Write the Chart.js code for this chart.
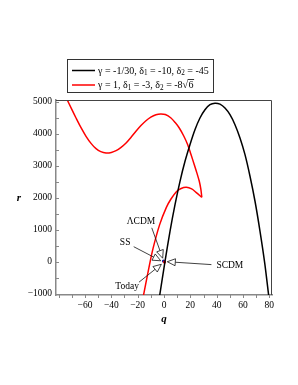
<!DOCTYPE html>
<html>
<head>
<meta charset="utf-8">
<script src="https://cdn.jsdelivr.net/npm/chart.js@4.4.1/dist/chart.umd.min.js"></script>
<style>
  html, body { margin: 0; padding: 0; background: #fff; }
  #wrap { position: relative; width: 298px; height: 385px; }
</style>
</head>
<body>
<div id="wrap"><canvas id="grafico"></canvas></div>
<script>
// black curve: gamma = -1/30, d1 = -10, d2 = -45
const blackQ = [-3.45, 0.77, 4.56, 8.36, 12.15, 15.95, 19.7, 23.5, 27.3, 31.1, 34.9, 38.7, 42.5, 46.3, 50.1, 53.9, 57.7, 61.5, 65.3, 69.1, 72.9, 76.5, 79.6];
const blackR = [-1100, 14, 952, 1783, 2514, 3139, 3658, 4127, 4493, 4752, 4908, 4955, 4925, 4805, 4596, 4283, 3867, 3346, 2671, 1890, 952, -50, -1100];

// red curve: gamma = 1, d1 = -3, d2 = -8 sqrt(6)  (upper part, up to the cusp)
const redUpperQ = [-74.5, -70, -66.8, -63, -59.2, -55.4, -51.6, -48, -44, -40, -36.4, -32.6, -28.8, -25, -21.3, -17.5, -13.7, -10, -6.1, -2.5, 1, 5.3, 8.5, 11.6, 15, 18, 20.5, 23, 25, 26.8, 28, 28.7];
const redUpperR = [5150, 4760, 4493, 4190, 3921, 3700, 3533, 3440, 3399, 3415, 3471, 3575, 3711, 3890, 4077, 4255, 4408, 4520, 4596, 4620, 4600, 4493, 4350, 4180, 3930, 3658, 3350, 3033, 2770, 2514, 2260, 2014];
// red curve, lower part, from the cusp down
const redLowerQ = [28.7, 24.3, 21, 17, 13, 9.4, 5.3, 1.8, -3.3, -8.4, -12, -15.8];
const redLowerR = [2014, 2170, 2275, 2325, 2290, 2190, 1960, 1700, 1160, 400, -300, -1100];

// special points near the origin
const pointQ = [-0.4, 0.4];
const pointR = [20, -10];

const xTicks = [-60, -40, -20, 0, 20, 40, 60, 80];
const yTicks = [-1000, 0, 1000, 2000, 3000, 4000, 5000];

// annotations: label, label position, arrow tail, arrow target (data units)
const annLabels = ['ΛCDM', 'SS', 'Today', 'SCDM'];
const annLabelQ = [-17.5, -29.5, -28, 50];
const annLabelR = [1250, 600, -780, -120];
const annTailQ = [-9.3, -23, -19, 36];
const annTailR = [1060, 470, -640, -90];
const annTipQ = [-1, -2.5, -2, 2.5];
const annTipR = [110, 30, -80, 0];

const legendRows = [
  { color: '#000000', parts: [{t: 'γ = -1/30, δ'}, {t: '1', sub: true}, {t: ' = -10, δ'}, {t: '2', sub: true}, {t: ' = -45'}] },
  { color: '#ff0000', parts: [{t: 'γ = 1, δ'}, {t: '1', sub: true}, {t: ' = -3, δ'}, {t: '2', sub: true}, {t: ' = -8'}], sqrt: '6' }
];

const toPts = (qs, rs) => qs.map((q, i) => ({ x: q, y: rs[i] }));
const fmt = v => (v < 0 ? '\u2212' + Math.abs(v) : '' + v);
const SERIF = '"Liberation Serif", "DejaVu Serif", serif';

function drawParts(ctx, x, y, parts, size) {
  for (const p of parts) {
    if (p.sub) {
      ctx.font = (size * 0.72) + 'px ' + SERIF;
      ctx.fillText(p.t, x, y + size * 0.22);
    } else {
      ctx.font = size + 'px ' + SERIF;
      ctx.fillText(p.t, x, y);
    }
    x += ctx.measureText(p.t).width;
  }
  return x;
}

const extras = {
  id: 'extras',
  afterDraw(chart) {
    const ctx = chart.ctx;
    const a = chart.chartArea;
    const xs = chart.scales.x, ys = chart.scales.y;
    ctx.save();

    // frame top + right
    ctx.strokeStyle = '#444';
    ctx.lineWidth = 1;
    ctx.beginPath();
    ctx.moveTo(a.left, a.top + 0.5);
    ctx.lineTo(a.right - 0.5, a.top + 0.5);
    ctx.lineTo(a.right - 0.5, a.bottom);
    ctx.stroke();

    // small ticks (major + minor)
    ctx.strokeStyle = '#888';
    ctx.lineWidth = 1;
    ctx.beginPath();
    for (let v = -1000; v <= 5000; v += 500) {
      const y = Math.round(ys.getPixelForValue(v)) + 0.5;
      ctx.moveTo(a.left, y);
      ctx.lineTo(a.left + 3, y);
    }
    for (let v = -80; v <= 80; v += 10) {
      const x = Math.round(xs.getPixelForValue(v)) + 0.5;
      ctx.moveTo(x, a.bottom);
      ctx.lineTo(x, a.bottom + 3);
    }
    ctx.stroke();

    // legend
    const lx = 67, ly = 59, lw = 146, lh = 33;
    ctx.fillStyle = '#fff';
    ctx.fillRect(lx, ly, lw, lh);
    ctx.strokeStyle = '#333';
    ctx.lineWidth = 1;
    ctx.strokeRect(lx + 0.5, ly + 0.5, lw, lh);
    const rowY = [70.5, 85];
    const size = 10;
    legendRows.forEach((row, i) => {
      ctx.strokeStyle = row.color;
      ctx.lineWidth = 1.5;
      ctx.beginPath();
      ctx.moveTo(72, rowY[i]);
      ctx.lineTo(95, rowY[i]);
      ctx.stroke();
      ctx.fillStyle = '#000';
      ctx.textBaseline = 'middle';
      ctx.textAlign = 'left';
      let x = drawParts(ctx, 98, rowY[i] + 0.5, row.parts, size);
      if (row.sqrt) {
        ctx.font = size + 'px ' + SERIF;
        ctx.fillText('\u221A', x, rowY[i] + 0.5);
        x += ctx.measureText('\u221A').width;
        const w = ctx.measureText(row.sqrt).width;
        ctx.fillText(row.sqrt, x + 0.5, rowY[i] + 0.5);
        ctx.strokeStyle = '#000';
        ctx.lineWidth = 0.8;
        ctx.beginPath();
        ctx.moveTo(x - 0.5, rowY[i] - 5.5);
        ctx.lineTo(x + w + 1, rowY[i] - 5.5);
        ctx.stroke();
      }
    });

    // axis titles
    ctx.fillStyle = '#000';
    ctx.font = 'italic bold 11px ' + SERIF;
    ctx.textAlign = 'center';
    ctx.textBaseline = 'middle';
    ctx.fillText('q', xs.getPixelForValue(0), 319);
    ctx.fillText('r', 19, ys.getPixelForValue(2000));

    // annotations with hollow arrow heads
    ctx.font = '9.5px ' + SERIF;
    annLabels.forEach((t, i) => {
      const px = xs.getPixelForValue(annLabelQ[i]), py = ys.getPixelForValue(annLabelR[i]);
      ctx.fillStyle = '#000';
      ctx.fillText(t, px, py);
      const tx = xs.getPixelForValue(annTailQ[i]), ty = ys.getPixelForValue(annTailR[i]);
      const hx = xs.getPixelForValue(annTipQ[i]), hy = ys.getPixelForValue(annTipR[i]);
      const ang = Math.atan2(hy - ty, hx - tx);
      const L = 8, W = 3.5;
      const bx = hx - L * Math.cos(ang), by = hy - L * Math.sin(ang);
      ctx.strokeStyle = '#111';
      ctx.lineWidth = 0.8;
      ctx.beginPath();
      ctx.moveTo(tx, ty);
      ctx.lineTo(bx, by);
      ctx.stroke();
      ctx.beginPath();
      ctx.moveTo(hx, hy);
      ctx.lineTo(bx + W * Math.sin(ang), by - W * Math.cos(ang));
      ctx.lineTo(bx - W * Math.sin(ang), by + W * Math.cos(ang));
      ctx.closePath();
      ctx.fillStyle = 'rgba(255,255,255,0.85)';
      ctx.fill();
      ctx.stroke();
    });
    ctx.restore();
  }
};

const ctx = document.getElementById('grafico').getContext('2d');
const chart = new Chart(ctx, {
  type: 'scatter',
  data: {
    datasets: [
      { data: toPts(blackQ, blackR), showLine: true, borderColor: '#000', borderWidth: 1.5, pointRadius: 0, tension: 0.3 },
      { data: toPts(redUpperQ, redUpperR), showLine: true, borderColor: '#ff0000', borderWidth: 1.5, pointRadius: 0, tension: 0.3 },
      { data: toPts(redLowerQ, redLowerR), showLine: true, borderColor: '#ff0000', borderWidth: 1.5, pointRadius: 0, tension: 0.3 },
      { data: toPts(pointQ, pointR), showLine: false, pointRadius: 1.6, borderWidth: 0,
        backgroundColor: ['#1a1aa0', '#e00000'] }
    ]
  },
  options: {
    responsive: true,
    maintainAspectRatio: false,
    animation: false,
    clip: true,
    layout: { padding: { left: 0, top: 100, right: 26, bottom: 0 } },
    plugins: { legend: { display: false }, tooltip: { enabled: false } },
    scales: {
      x: {
        type: 'linear', min: -82, max: 82,
        afterFit: s => { s.height = 90; },
        afterBuildTicks: s => { s.ticks = xTicks.map(v => ({ value: v })); },
        grid: { display: true, drawOnChartArea: false, drawTicks: false },
        border: { color: '#888', width: 1.5 },
        ticks: { callback: fmt, padding: 5, maxRotation: 0, color: '#000', font: { family: SERIF, size: 9.5 } }
      },
      y: {
        type: 'linear', min: -1040, max: 5055,
        afterFit: s => { s.width = 56; },
        afterBuildTicks: s => { s.ticks = yTicks.map(v => ({ value: v })); },
        grid: { display: true, drawOnChartArea: false, drawTicks: false },
        border: { color: '#888', width: 1.5 },
        ticks: { callback: fmt, padding: 4, color: '#000', font: { family: SERIF, size: 9.5 } }
      }
    }
  },
  plugins: [extras]
});
</script>
</body>
</html>
